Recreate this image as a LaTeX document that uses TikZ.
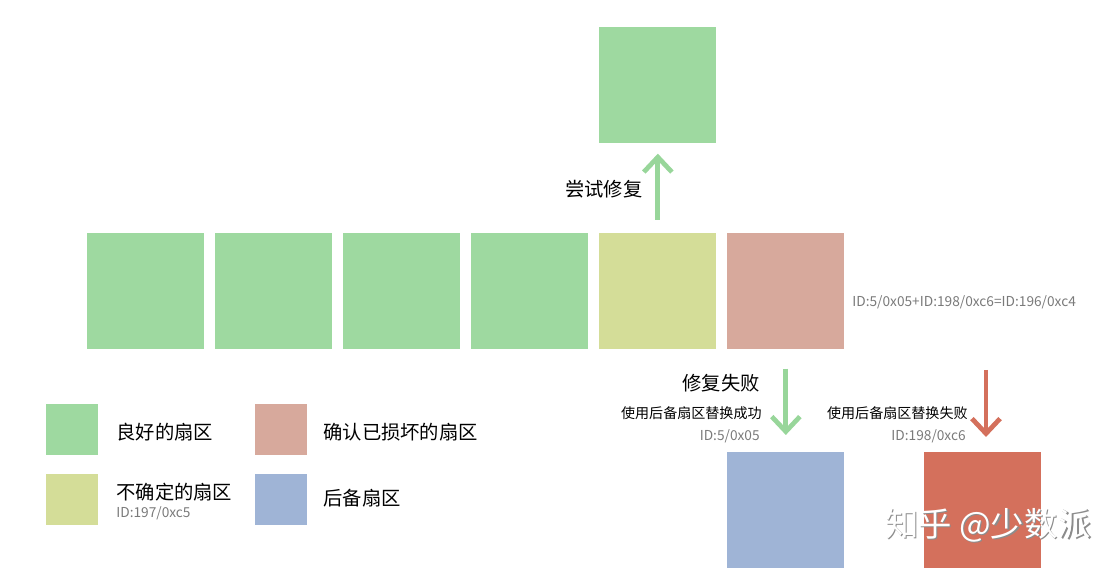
\documentclass[tikz,border=0pt]{standalone}
\usepackage{fontspec}
\setmainfont{Noto Sans CJK SC}
\usetikzlibrary{arrows.meta}
\definecolor{good}{HTML}{9ED9A0}
\definecolor{unsure}{HTML}{D4DD98}
\definecolor{bad}{HTML}{D7A99C}
\definecolor{spare}{HTML}{9FB4D6}
\definecolor{fail}{HTML}{D4705C}
\definecolor{agreen}{HTML}{98D69A}
\definecolor{idgray}{HTML}{7A7A7A}
\begin{document}
\begin{tikzpicture}[x=0.02cm,y=-0.02cm,
 sect/.style={fill=#1, minimum width=2.34cm, minimum height=2.32cm, inner sep=0, anchor=north west, draw=none},
 leg/.style={fill=#1, minimum width=1.04cm, minimum height=1.02cm, inner sep=0, anchor=north west, draw=none},
 big/.style={font=\fontsize{11}{13}\selectfont, inner sep=0},
 small/.style={font=\fontsize{8}{10}\selectfont, inner sep=0},
 idt/.style={font=\fontsize{7.8}{9}\selectfont, text=idgray, inner sep=0},
 arr/.style={line width=2.7pt, -{Straight Barb[length=8.5pt,width=16pt]}},
]
\useasboundingbox (0,0) rectangle (1120,573);
% main row
\node[sect=good] (s1) at (87,233) {};
\node[sect=good] (s2) at (215,233) {};
\node[sect=good] (s3) at (343,233) {};
\node[sect=good] (s4) at (471,233) {};
\node[sect=unsure] (s5) at (599,233) {};
\node[sect=bad] (s6) at (727,233) {};
\node[sect=good] (top) at (599,27) {};
\node[sect=spare] (blue) at (727,452) {};
\node[sect=fail] (red) at (924,452) {};
% arrows
\draw[arr, draw=agreen, shorten <=0.26cm, shorten >=0.2cm] (s5.north) -- (top.south);
\draw[arr, draw=agreen, shorten <=0.38cm, shorten >=0.34cm] (s6.south) -- (blue.north);
\coordinate (rt) at (986,370);
\draw[arr, draw=fail, shorten >=0.3cm] (rt) -- (rt |- red.north);
% labels
\node[big, anchor=east] (try) at (643,189) {尝试修复};
\node[idt, anchor=west] (sum) at (852,302) {ID:5/0x05+ID:198/0xc6=ID:196/0xc4};
\node[big, anchor=east] (rf) at (760,383) {修复失败};
\node[small, anchor=east] (ok) at (762,413) {使用后备扇区替换成功};
\node[idt, anchor=east] (id5) at (760,436) {ID:5/0x05};
\node[small, anchor=east] (ng) at (968,413) {使用后备扇区替换失败};
\node[idt, anchor=east] (id198) at (966,436) {ID:198/0xc6};
% legend
\node[leg=good] (lg1) at (46,404) {};
\node[leg=unsure] (lg2) at (46,474) {};
\node[leg=bad] (lg3) at (255,404) {};
\node[leg=spare] (lg4) at (255,474) {};
\node[big, anchor=west] (t1) at (116,432) {良好的扇区};
\node[big, anchor=west] (t2) at (116,492) {不确定的扇区};
\node[idt, anchor=west] (t2id) at (116,513) {ID:197/0xc5};
\node[big, anchor=west] (t3) at (323,432) {确认已损坏的扇区};
\node[big, anchor=west] (t4) at (323,498) {后备扇区};
% watermark
\node[font=\fontsize{19}{22}\selectfont, text=black!45, inner sep=0] (wms) at (989.5,526.5) {知乎 @少数派};
\node[font=\fontsize{19}{22}\selectfont, text=white, inner sep=0] (wm) at (988,525) {知乎 @少数派};
\end{tikzpicture}
\end{document}
